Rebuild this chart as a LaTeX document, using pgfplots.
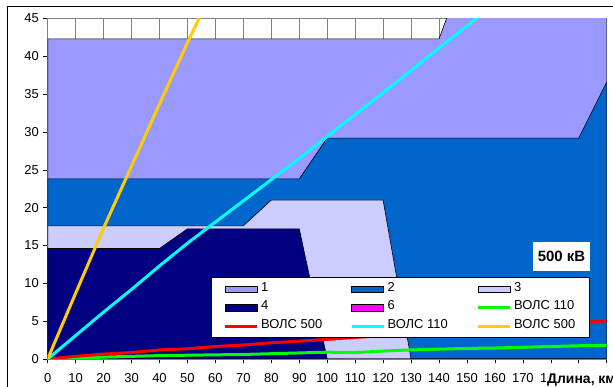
\documentclass[border=0pt]{standalone}
\usepackage{fontspec}
\setmainfont{Liberation Sans}
\usepackage{pgfplots}
\pgfplotsset{compat=1.18}
\usepackage{pgfplotstable}
\definecolor{cA}{HTML}{9999FF}
\definecolor{cB}{HTML}{0066CC}
\definecolor{cC}{HTML}{CCCCFF}
\definecolor{cD}{HTML}{000080}
\definecolor{cE}{HTML}{FF00FF}
\definecolor{cG}{HTML}{00FF00}
\definecolor{cR}{HTML}{FF0000}
\definecolor{cK}{HTML}{00FFFF}
\definecolor{cY}{HTML}{FFCC00}
\definecolor{gridgray}{HTML}{808080}
\newcommand{\lf}{\fontsize{13}{15}\selectfont}

% x, areas 1-4, VOLS 110 (green), VOLS 500 (red)
\pgfplotstableread{
x   a1    a2    a3    a4    g     r
0   42.3  23.8  17.6  14.6  0     0
10  42.3  23.8  17.6  14.6  0.1   0.35
20  42.3  23.8  17.6  14.6  0.25  0.65
30  42.3  23.8  17.6  14.6  0.35  0.85
40  42.3  23.8  17.6  14.6  0.45  1.2
50  42.3  23.8  17.6  17.2  0.5   1.35
60  42.3  23.8  17.6  17.2  0.55  1.65
70  42.3  23.8  17.6  17.2  0.6   1.85
80  42.3  23.8  21.0  17.2  0.7   2.15
90  42.3  23.8  21.0  17.2  0.8   2.35
100 42.3  29.2  21.0  0     0.9   2.6
110 42.3  29.2  21.0  0     0.85  2.85
120 42.3  29.2  21.0  0     1.05  3.1
130 42.3  29.2  0     0     1.2   3.35
140 42.3  29.2  0     0     1.3   3.55
150 52.3  29.2  0     0     1.4   3.8
160 60    29.2  0     0     1.45  4.05
170 60    29.2  0     0     1.55  4.3
180 60    29.2  0     0     1.65  4.55
190 60    29.2  0     0     1.75  4.8
200 60    36.6  0     0     1.8   5.05
}\tblA
% VOLS 110 (cyan)
\pgfplotstableread{
x   y
0   0
10  3.1
20  6.2
30  9.2
40  12.3
50  15.3
60  18.1
70  20.9
80  23.7
90  26.5
100 29.4
110 32.3
120 35.2
130 38.1
140 41.1
150 44.0
160 47.0
}\tblK
% VOLS 500 (yellow)
\pgfplotstableread{
x   y
0   0
10  8.7
20  17.3
30  25.5
40  33.7
50  41.8
60  49.6
}\tblY

\pgfplotsset{
 arealeg/.style={legend image code/.code={\draw[##1, draw=black, line width=0.6bp] (0bp,-3.3bp) rectangle (32bp,3.3bp);}},
 lineleg/.style={legend image code/.code={\draw[##1, line width=3bp] (0bp,0bp) -- (32bp,0bp);}},
}

\begin{document}
\begin{tikzpicture}
\useasboundingbox (-47.7bp,-28bp) rectangle (565.3bp,359bp);
\clip (-47.7bp,-28bp) rectangle (565.3bp,359bp);
\draw[black, line width=1bp] (-40.4bp,-60bp) -- (-40.4bp,352bp) -- (620bp,352bp);
\begin{axis}[
 at={(0bp,0bp)}, anchor=south west,
 scale only axis, width=559bp, height=340.5bp,
 xmin=0, xmax=200, ymin=0, ymax=45,
 xtick={0,10,...,200}, ytick={0,5,...,45},
 xmajorgrids, grid style={gridgray, line width=0.6bp},
 axis line style={gridgray, line width=0.8bp},
 tick align=outside, major tick length=4.3bp,
 xtick pos=left, ytick pos=left,
 tick style={black, line width=0.6bp},
 ticklabel style={font=\lf},
 xticklabel style={yshift=-7bp},
 yticklabel style={xshift=-1bp},
 /pgf/number format/assume math mode=true,
 legend columns=3,
 legend style={at={(0.9701,0.0608)}, anchor=south east,
   draw=black, line width=0.8bp, fill=white,
   inner xsep=12bp, inner ysep=4.5bp, row sep=4.1bp, column sep=0pt,
   nodes={inner sep=0pt, font=\lf, text height=9bp, text depth=5.3bp}},
]
\addplot[fill=cA, draw=black, line width=0.6bp, forget plot] table[x=x,y=a1] {\tblA} \closedcycle;
\addplot[fill=cB, draw=black, line width=0.6bp, forget plot] table[x=x,y=a2] {\tblA} \closedcycle;
\addplot[fill=cC, draw=black, line width=0.6bp, forget plot] table[x=x,y=a3] {\tblA} \closedcycle;
\addplot[fill=cD, draw=black, line width=0.6bp, forget plot] table[x=x,y=a4] {\tblA} \closedcycle;
\addplot[cG, line width=3bp, forget plot] table[x=x,y=g] {\tblA};
\addplot[cR, line width=3bp, forget plot] table[x=x,y=r] {\tblA};
\addplot[cK, line width=3bp, forget plot] table[x=x,y=y] {\tblK};
\addplot[cY, line width=3bp, forget plot] table[x=x,y=y] {\tblY};

\addlegendimage{arealeg, fill=cA}
\addlegendentry{\makebox[91.5bp][l]{\hspace{2.5bp}1}}
\addlegendimage{arealeg, fill=cB}
\addlegendentry{\makebox[91.5bp][l]{\hspace{2.5bp}2}}
\addlegendimage{arealeg, fill=cC}
\addlegendentry{\makebox[66bp][l]{\hspace{2.5bp}3}}
\addlegendimage{arealeg, fill=cD}
\addlegendentry{\makebox[91.5bp][l]{\hspace{2.5bp}4}}
\addlegendimage{arealeg, fill=cE}
\addlegendentry{\makebox[91.5bp][l]{\hspace{2.5bp}6}}
\addlegendimage{lineleg, cG}
\addlegendentry{\makebox[66bp][l]{\hspace{2.5bp}ВОЛС 110}}
\addlegendimage{lineleg, cR}
\addlegendentry{\makebox[91.5bp][l]{\hspace{2.5bp}ВОЛС 500}}
\addlegendimage{lineleg, cK}
\addlegendentry{\makebox[91.5bp][l]{\hspace{2.5bp}ВОЛС 110}}
\addlegendimage{lineleg, cY}
\addlegendentry{\makebox[66bp][l]{\hspace{2.5bp}ВОЛС 500}}

\node[fill=white, minimum width=57bp, minimum height=29bp, inner sep=0pt,
      font=\fontsize{15}{17}\selectfont\bfseries] at (rel axis cs:0.919,0.302) {500 кВ};
\end{axis}
\node[anchor=base west, fill=white, inner sep=1bp, font=\fontsize{14}{16}\selectfont\bfseries] at (498.3bp,-24.3bp) {Длина, км};
\end{tikzpicture}
\end{document}
